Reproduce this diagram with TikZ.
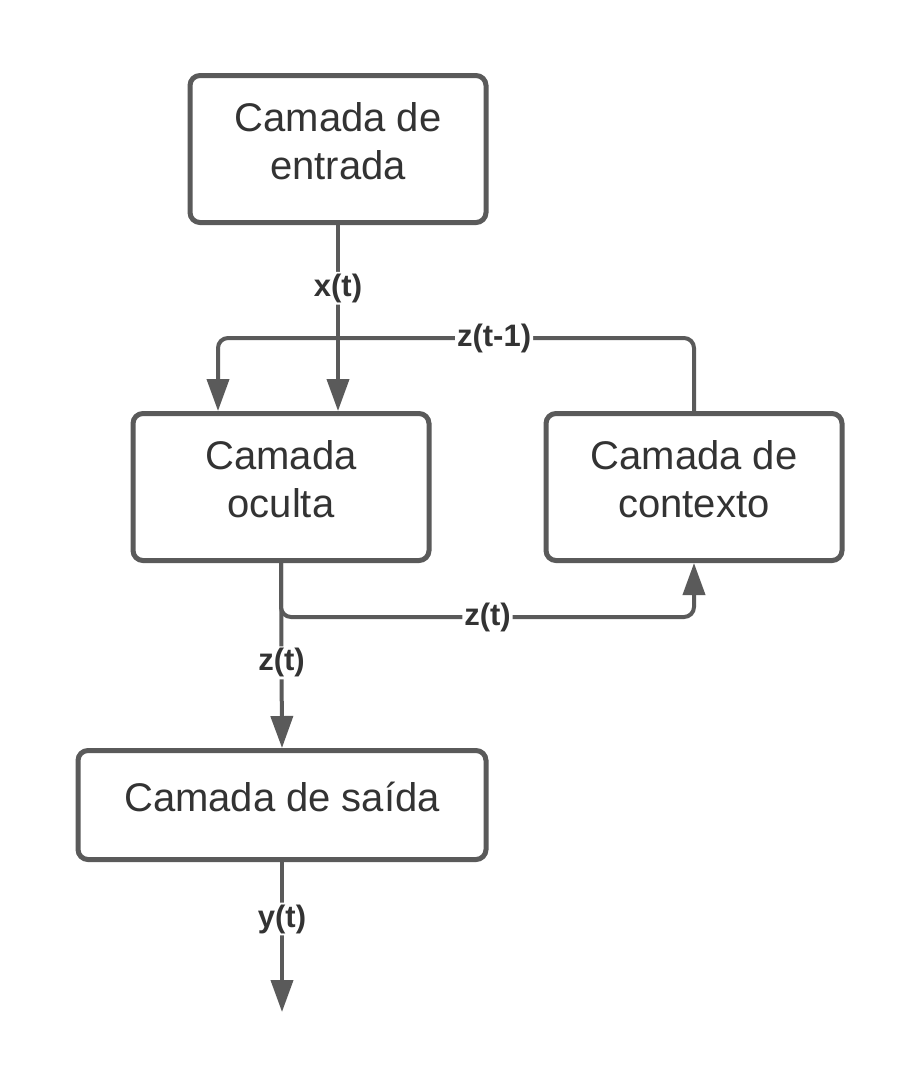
\documentclass[tikz,border=0pt]{standalone}
\usepackage{fontspec}
\setmainfont{Liberation Sans}
\usetikzlibrary{arrows.meta}
\definecolor{edgegray}{HTML}{5A5A5A}
\definecolor{textgray}{HTML}{333333}
\tikzset{
  layer/.style={draw=edgegray, line width=5pt, rounded corners=10pt, fill=white,
    align=center, text=textgray, font=\fontsize{40}{48}\selectfont,
    minimum width=296pt, minimum height=147pt, inner sep=0pt, text depth=16pt},
  flow/.style={draw=edgegray, line width=4pt, rounded corners=10pt,
    -{Triangle[length=32pt, width=22pt]}},
  lbl/.style={fill=white, text=textgray, inner sep=2pt, text depth=,
    font=\bfseries\fontsize{31}{37}\selectfont}
}
\begin{document}
\begin{tikzpicture}[x=1pt, y=-1pt]
    \useasboundingbox[fill=white] (0,0) rectangle (919,1088);
    \node[layer] (in) at (338,149) {Camada de\\entrada};
    \node[layer] (hid) at (281,487) {Camada\\oculta};
    \node[layer] (ctx) at (694,487) {Camada de\\contexto};
    \node[layer, minimum width=408pt, minimum height=109pt] (out) at (282,805) {Camada de saída};
    \coordinate (xin) at ([xshift=57pt]hid.north);
    \coordinate (loopin) at ([xshift=-63pt]hid.north);
    \coordinate (yend) at (282,1012);
    \draw[flow] (in.south -| xin) -- node[lbl, pos=0.34]{x(t)} (xin);
    \draw[flow] (ctx.north) -- ++(0,-73) -| node[lbl, pos=0.21]{z(t-1)} (loopin);
    \draw[flow] (hid.south) -- ++(0,54) -| node[lbl, pos=0.25]{z(t)} (ctx.south);
    \draw[flow] (hid.south) -- node[lbl, pos=0.54]{z(t)} (out.north);
    \draw[flow] (out.south) -- node[lbl, pos=0.38]{y(t)} (yend);
\end{tikzpicture}
\end{document}
